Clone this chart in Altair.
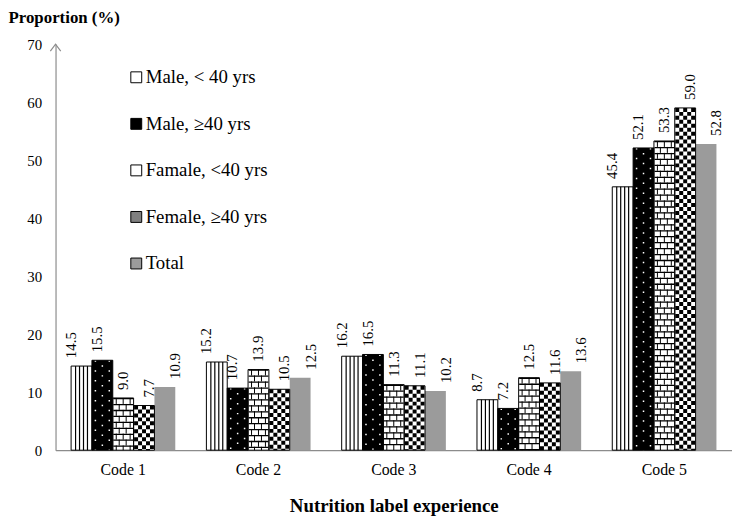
import altair as alt
import pandas as pd

categories = ["Code 1", "Code 2", "Code 3", "Code 4", "Code 5"]
series = ["Male, < 40 yrs", "Male, \u226540 yrs", "Famale, <40 yrs", "Female, \u226540 yrs", "Total"]
male_lt40 = [14.5, 15.2, 16.2, 8.7, 45.4]
male_ge40 = [15.5, 10.7, 16.5, 7.2, 52.1]
female_lt40 = [9.0, 13.9, 11.3, 12.5, 53.3]
female_ge40 = [7.7, 10.5, 11.1, 11.6, 59.0]
total = [10.9, 12.5, 10.2, 13.6, 52.8]
y_ticks = [0, 10, 20, 30, 40, 50, 60, 70]

FONT = "Liberation Serif"

rows = []
for s, vals in zip(series, [male_lt40, male_ge40, female_lt40, female_ge40, total]):
    for c, v in zip(categories, vals):
        rows.append({"category": c, "series": s, "value": v})
df = pd.DataFrame(rows)

SLOTS = 21
slot_domain = [f"{s}#{j}" for s in series for j in range(SLOTS)]


def pattern_df(series_name, slots):
    sub = df[df["series"] == series_name]
    out = []
    for _, r in sub.iterrows():
        for j in slots:
            out.append({"category": r["category"], "series": r["series"],
                        "value": r["value"], "slot": f"{series_name}#{j}"})
    return pd.DataFrame(out)


x_scale = alt.Scale(domain=categories, paddingInner=0.23, paddingOuter=0.115)
off_scale = alt.Scale(domain=series, paddingInner=0, paddingOuter=0)
slot_scale = alt.Scale(domain=slot_domain, paddingInner=0, paddingOuter=0)
y_scale = alt.Scale(domain=[0, 70], nice=False)

legend_fill = ["#ffffff", "#000000", "#ffffff", "#808080", "#9b9b9b"]

x_axis = alt.Axis(title="Nutrition label experience", labelAngle=0, ticks=False,
                  labelFont=FONT, labelFontSize=16, labelColor="black",
                  labelBaseline="alphabetic", labelPadding=25,
                  domainColor="#8c8c8c", domainWidth=1.2,
                  titleFont=FONT, titleFontSize=19, titleFontWeight="bold",
                  titleColor="black", titleBaseline="alphabetic", titleY=62)
y_axis = alt.Axis(title="Proportion (%)", values=y_ticks, ticks=False, grid=False,
                  labelFont=FONT, labelFontSize=15, labelColor="black",
                  labelPadding=14, domainColor="#8c8c8c", domainWidth=1.2,
                  titleFont=FONT, titleFontSize=17, titleFontWeight="bold",
                  titleColor="black", titleAngle=0, titleAlign="left",
                  titleBaseline="alphabetic", titleX=-48, titleY=-22)

X = alt.X("category:N", scale=x_scale, axis=x_axis, sort=categories)
Y = alt.Y("value:Q", scale=y_scale, axis=y_axis)

legend = alt.Legend(
    title=None, orient="none", legendX=72, legendY=24,
    padding=0, rowPadding=27, symbolType="square", symbolSize=121,
    symbolStrokeColor="black", symbolStrokeWidth=1, symbolOpacity=1,
    labelFont=FONT, labelFontSize=19, labelColor="black",
    labelOffset=0, labelLimit=300,
)

bars = alt.Chart(df).mark_bar().encode(
    x=X,
    xOffset=alt.XOffset("series:N", scale=off_scale, sort=series),
    y=Y,
    color=alt.Color("series:N", scale=alt.Scale(domain=series, range=legend_fill), legend=legend),
)

S0, S1, S2, S3, S4 = series

# white ground for the checkerboard bars
checker_ground = alt.Chart(df).transform_filter(
    f"datum.series == '{S3}'"
).mark_bar(color="white").encode(
    x=X,
    xOffset=alt.XOffset("series:N", scale=off_scale),
    y=Y,
)


def rules(series_name, slots, color, width, dash=None, dash_offset=0):
    d = pattern_df(series_name, slots)
    kw = dict(color=color, strokeWidth=width)
    if dash is not None:
        kw["strokeDash"] = dash
        kw["strokeDashOffset"] = dash_offset
    return alt.Chart(d).mark_rule(**kw).encode(
        x=X,
        xOffset=alt.XOffset("slot:N", scale=slot_scale),
        y=Y,
        y2=alt.datum(0),
    )


pattern_layers = [
    # vertical stripes
    rules(S0, [4, 8, 12, 16], "black", 1.2),
    # white dots on black
    rules(S1, [3, 17], "white", 1.5, [1.5, 8.5], 0),
    rules(S1, [10], "white", 1.5, [1.5, 8.5], 5),
    # bricks
    rules(S2, [10], "black", 20, [1.3, 4.7], 0),
    rules(S2, [3, 10, 17], "black", 1, [6, 6], 0),
    rules(S2, [6, 13], "black", 1, [6, 6], 6),
    # checkerboard
    rules(S3, [2, 10, 18], "black", 4, [4, 4], 0),
    rules(S3, [6, 14], "black", 4, [4, 4], 4),
]

outline = alt.Chart(df).transform_filter(
    f"datum.series != '{S4}'"
).mark_bar(fillOpacity=0, stroke="black", strokeWidth=1).encode(
    x=X,
    xOffset=alt.XOffset("series:N", scale=off_scale),
    y=Y,
)

labels = alt.Chart(df).mark_text(
    angle=270, align="left", baseline="middle", yOffset=-8,
    font=FONT, fontSize=15, color="black"
).encode(
    x=X,
    xOffset=alt.XOffset("series:N", scale=off_scale),
    y=Y,
    text=alt.Text("value:Q", format=".1f"),
)

arrow = alt.Chart(pd.DataFrame({"a": [0]})).mark_point(
    shape="M-0.75,1L0,0L0.75,1", filled=False, size=196,
    stroke="#8c8c8c", strokeWidth=1.2, opacity=1
).encode(
    x=alt.value(0),
    y=alt.Y(datum=70, scale=y_scale, axis=y_axis),
)

chart = alt.layer(
    bars, checker_ground, *pattern_layers, outline, labels, arrow
).resolve_scale(
    xOffset="independent"
).properties(
    width=683, height=410,
    autosize=alt.AutoSizeParams(type="none"),
    padding={"left": 48, "top": 34, "right": 0, "bottom": 66},
    background="white",
).configure_view(stroke=None)

chart.save("out.html", embed_options={"renderer": "svg", "actions": False})
